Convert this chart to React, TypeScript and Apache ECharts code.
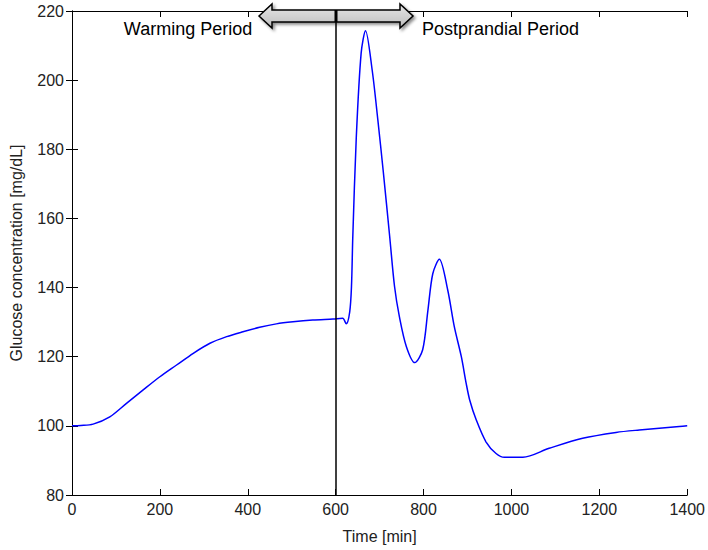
import React, { useEffect, useRef } from "react";
import * as echarts from "echarts";

const timeMin: number[] = [0, 20, 48, 86, 124, 162, 200, 238, 276, 314, 352, 389, 427, 465, 503, 548, 594, 616, 624, 632, 636, 639, 647, 658, 668, 683, 696, 708, 723, 734, 745, 761, 780, 798, 810, 821, 836, 855, 870, 886, 897, 905, 920, 942, 965, 984, 1026, 1086, 1162, 1238, 1291, 1382, 1400];
const glucose: number[] = [100, 100.1, 100.5, 102.6, 106.5, 110.4, 114.2, 117.6, 121, 123.9, 125.8, 127.2, 128.5, 129.5, 130.1, 130.6, 130.9, 131.1, 129.5, 133, 140.3, 154.7, 183.6, 207.8, 214.3, 203, 188.5, 174, 154.7, 140.3, 131.6, 122.9, 118.3, 122, 133.5, 144, 148.2, 139.3, 128.7, 120, 112.3, 107.5, 101.7, 95.4, 92, 90.9, 90.9, 93.5, 96.4, 98.1, 98.8, 99.8, 100];
const mealTime = 600;
const xLabelName = "Time [min]";
const yLabelName = "Glucose concentration [mg/dL]";
const leftText = "Warming Period";
const rightText = "Postprandial Period";

const FONT = "'Liberation Sans', Arial, sans-serif";

export default function App() {
  const ref = useRef<HTMLDivElement>(null);
  useEffect(() => {
    document.body.style.margin = "0";
    const chart = echarts.init(ref.current!, undefined, { renderer: "svg" });
    const axisCommon = {
      axisLine: { show: true, lineStyle: { color: "#000", width: 1 } },
      axisTick: { show: true, inside: true, length: 6, lineStyle: { color: "#000" } },
      splitLine: { show: false },
    };
    const plain = (v: number) => String(v);
    chart.setOption({
      animation: false,
      backgroundColor: "#fff",
      grid: { left: 72, top: 11, right: 20, bottom: 55, containLabel: false },
      xAxis: [
        {
          type: "value", min: 0, max: 1400, interval: 200, position: "bottom",
          ...axisCommon,
          axisLabel: { color: "#222", fontFamily: FONT, fontSize: 16, margin: 6, formatter: plain },
          name: xLabelName, nameLocation: "middle", nameGap: 33,
          nameTextStyle: { color: "#222", fontFamily: FONT, fontSize: 16 },
        },
        {
          type: "value", min: 0, max: 1400, interval: 200, position: "top",
          ...axisCommon, axisLabel: { show: false },
        },
      ],
      yAxis: [
        {
          type: "value", min: 80, max: 220, interval: 20, position: "left",
          ...axisCommon,
          axisLabel: { color: "#222", fontFamily: FONT, fontSize: 16, margin: 8, formatter: plain },
          name: yLabelName, nameLocation: "middle", nameGap: 48,
          nameTextStyle: { color: "#222", fontFamily: FONT, fontSize: 16 },
        },
        {
          type: "value", min: 80, max: 220, interval: 20, position: "right",
          ...axisCommon, axisLabel: { show: false },
        },
      ],
      series: [
        {
          type: "line",
          data: timeMin.map((t, i) => [t, glucose[i]]),
          showSymbol: false,
          smooth: 0.3,
          lineStyle: { color: "#0000ff", width: 1.5 },
          markLine: {
            silent: true,
            symbol: ["none", "none"],
            label: { show: false },
            lineStyle: { color: "#000", width: 1.5, type: "solid" },
            data: [{ xAxis: mealTime }],
          },
        },
      ],
      graphic: [
        {
          type: "polygon",
          shape: {
            points: [
              [259, 16], [272, 4], [272, 10], [400, 10], [400, 4], [413, 16],
              [400, 28], [400, 22], [272, 22], [272, 28],
            ],
          },
          style: {
            fill: new echarts.graphic.LinearGradient(0, 0, 0, 1, [
              { offset: 0, color: "#e6e6e6" },
              { offset: 1, color: "#bdbdbd" },
            ]),
            stroke: "#000",
            lineWidth: 1.5,
            shadowBlur: 3,
            shadowOffsetX: 2,
            shadowOffsetY: 2,
            shadowColor: "rgba(0,0,0,0.45)",
          },
          z: 100,
        },
        {
          type: "rect",
          shape: { x: 334.5, y: 10, width: 3, height: 12 },
          style: { fill: "#000" },
          z: 101,
        },
        {
          type: "text",
          x: 188, y: 29,
          style: {
            text: leftText, fontFamily: FONT, fontSize: 18, fill: "#000",
            textAlign: "center", textVerticalAlign: "middle",
          },
          z: 100,
        },
        {
          type: "text",
          x: 422, y: 29,
          style: {
            text: rightText, fontFamily: FONT, fontSize: 18, fill: "#000",
            textAlign: "left", textVerticalAlign: "middle",
          },
          z: 100,
        },
      ],
    });
    return () => chart.dispose();
  }, []);
  return <div ref={ref} style={{ width: 708, height: 550, position: "absolute", left: 0, top: 0 }} />;
}
